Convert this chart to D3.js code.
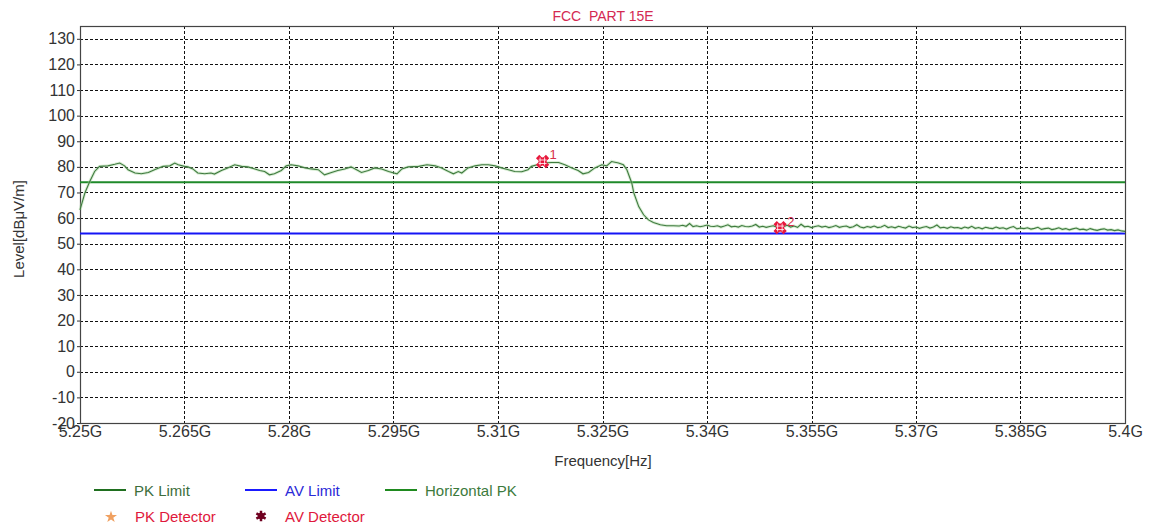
<!DOCTYPE html>
<html>
<head>
<meta charset="utf-8">
<script src="https://cdn.jsdelivr.net/npm/d3@7"></script>
<style>
  html, body { margin: 0; padding: 0; background: #fff; }
  svg { display: block; font-family: Arial, "Liberation Sans", sans-serif; }
</style>
</head>
<body>
<svg id="chart" width="1154" height="530"></svg>
<script>
// Frequency axis ticks (GHz) and their labels
const freqTicks = [5.25, 5.265, 5.28, 5.295, 5.31, 5.325, 5.34, 5.355, 5.37, 5.385, 5.4];
const freqTickLabels = ["5.25G", "5.265G", "5.28G", "5.295G", "5.31G", "5.325G", "5.34G", "5.355G", "5.37G", "5.385G", "5.4G"];
// Level axis ticks (dBµV/m)
const levelTicks = [-20, -10, 0, 10, 20, 30, 40, 50, 60, 70, 80, 90, 100, 110, 120, 130];

// Limits
const pkLimit = 74;
const avLimit = 54;

// Peak sweep: [frequency GHz, level dBµV/m]
const sweep = [
  [5.2500, 63.2], [5.2507, 69.8], [5.2514, 74.3], [5.2521, 78.2], [5.2528, 80.2],
  [5.2540, 80.4], [5.2550, 81.0], [5.2557, 81.5], [5.2564, 80.4], [5.2569, 78.9],
  [5.2579, 77.6], [5.2588, 77.3], [5.2598, 77.8], [5.2607, 78.9], [5.2619, 80.2],
  [5.2629, 80.4], [5.2636, 81.5], [5.2641, 80.8], [5.2650, 80.2], [5.2655, 80.0],
  [5.2662, 79.2], [5.2669, 77.6], [5.2679, 77.3], [5.2688, 77.6], [5.2693, 77.2],
  [5.2703, 78.6], [5.2712, 79.6], [5.2722, 80.8], [5.2732, 80.2], [5.2741, 80.0],
  [5.2751, 79.2], [5.2758, 78.6], [5.2765, 78.2], [5.2772, 76.9], [5.2779, 77.3],
  [5.2789, 78.6], [5.2796, 80.4], [5.2803, 80.8], [5.2813, 80.4], [5.2823, 79.6],
  [5.2832, 79.2], [5.2842, 78.9], [5.2851, 76.9], [5.2861, 77.8], [5.2870, 78.6],
  [5.2880, 79.2], [5.2889, 80.0], [5.2897, 78.9], [5.2904, 77.8], [5.2914, 78.6],
  [5.2923, 79.6], [5.2933, 79.2], [5.2943, 78.2], [5.2955, 77.3], [5.2962, 79.2],
  [5.2971, 80.0], [5.2986, 80.2], [5.2998, 80.8], [5.3010, 80.4], [5.3019, 79.6],
  [5.3029, 78.2], [5.3036, 77.3], [5.3043, 78.2], [5.3048, 77.6], [5.3057, 79.6],
  [5.3067, 80.4], [5.3077, 80.8], [5.3086, 80.8], [5.3096, 80.4], [5.3105, 79.6],
  [5.3115, 78.9], [5.3124, 78.2], [5.3134, 78.1], [5.3143, 78.9], [5.3148, 80.2],
  [5.3156, 80.8], [5.3163, 81.5], [5.3177, 81.7], [5.3187, 81.7], [5.3196, 80.8],
  [5.3206, 79.6], [5.3215, 78.6], [5.3222, 77.3], [5.3230, 77.8], [5.3239, 79.6],
  [5.3249, 80.8], [5.3256, 80.4], [5.3263, 82.1], [5.3273, 81.5], [5.3280, 80.8],
  [5.3285, 78.9], [5.3292, 73.7], [5.3295, 69.8], [5.3302, 64.5], [5.3309, 61.3],
  [5.3316, 59.3], [5.3323, 58.3], [5.3333, 57.4], [5.3342, 57.0], [5.3352, 57.0],
  [5.3360, 56.9], [5.3365, 57.2], [5.3370, 56.8], [5.3375, 57.9], [5.3380, 56.7],
  [5.3385, 57.0], [5.3390, 56.6], [5.3395, 56.9], [5.3400, 57.3], [5.3405, 56.8],
  [5.3410, 56.7], [5.3415, 57.0], [5.3420, 56.5], [5.3425, 56.9], [5.3430, 57.4],
  [5.3435, 56.6], [5.3440, 56.8], [5.3445, 56.5], [5.3450, 57.1], [5.3455, 56.7],
  [5.3460, 56.6], [5.3465, 56.9], [5.3470, 57.5], [5.3475, 56.5], [5.3480, 56.8],
  [5.3485, 56.4], [5.3490, 56.7], [5.3495, 57.0], [5.3500, 56.5], [5.3505, 56.8],
  [5.3510, 56.6], [5.3515, 57.2], [5.3520, 56.5], [5.3525, 56.9], [5.3530, 56.4],
  [5.3535, 57.6], [5.3540, 56.6], [5.3545, 56.8], [5.3550, 56.3], [5.3555, 56.7],
  [5.3560, 57.0], [5.3565, 56.5], [5.3570, 56.8], [5.3575, 56.3], [5.3580, 56.6],
  [5.3585, 57.1], [5.3590, 56.4], [5.3595, 56.7], [5.3600, 56.9], [5.3605, 56.3],
  [5.3610, 56.6], [5.3615, 57.4], [5.3620, 56.5], [5.3625, 56.2], [5.3630, 56.7],
  [5.3635, 56.4], [5.3640, 56.9], [5.3645, 56.3], [5.3650, 56.5], [5.3655, 57.2],
  [5.3660, 56.3], [5.3665, 56.6], [5.3670, 56.2], [5.3675, 56.8], [5.3680, 56.4],
  [5.3685, 56.1], [5.3690, 56.9], [5.3695, 56.3], [5.3700, 56.5], [5.3705, 56.0],
  [5.3710, 56.4], [5.3715, 56.7], [5.3720, 56.1], [5.3725, 56.5], [5.3730, 57.3],
  [5.3735, 56.2], [5.3740, 56.4], [5.3745, 56.0], [5.3750, 56.6], [5.3755, 56.2],
  [5.3760, 56.3], [5.3765, 55.9], [5.3770, 56.5], [5.3775, 56.1], [5.3780, 56.8],
  [5.3785, 56.0], [5.3790, 56.3], [5.3795, 55.8], [5.3800, 56.4], [5.3805, 56.1],
  [5.3810, 55.9], [5.3815, 56.5], [5.3820, 56.0], [5.3825, 56.2], [5.3830, 55.7],
  [5.3835, 56.3], [5.3840, 56.7], [5.3845, 55.8], [5.3850, 56.1], [5.3855, 55.9],
  [5.3860, 56.2], [5.3865, 55.7], [5.3870, 56.0], [5.3875, 56.4], [5.3880, 55.6],
  [5.3885, 55.9], [5.3890, 56.1], [5.3895, 55.5], [5.3900, 55.8], [5.3905, 56.2],
  [5.3910, 55.6], [5.3915, 55.9], [5.3920, 55.4], [5.3925, 55.8], [5.3930, 56.1],
  [5.3935, 55.5], [5.3940, 55.7], [5.3945, 55.3], [5.3950, 55.9], [5.3955, 55.5],
  [5.3960, 55.2], [5.3965, 55.6], [5.3970, 55.8], [5.3975, 55.3], [5.3980, 55.5],
  [5.3985, 55.1], [5.3990, 55.4], [5.3995, 55.0], [5.4000, 54.8]
];

// Marked peaks
const markerIds = ["1", "2"];
const markerFreq = [5.3164, 5.3505];
const markerLevel = [82.1, 56.3];

// Legend entries
const legendLines = [
  { label: "PK Limit", color: "#1f6f1f", text: "#3c6e3c" },
  { label: "AV Limit", color: "#1a1aff", text: "#2a2ad8" },
  { label: "Horizontal PK", color: "#1f8a1f", text: "#3c7a3c" }
];
const legendDetectors = ["PK Detector", "AV Detector"];

const svg = d3.select("#chart");
const plotLeft = 80, plotRight = 1125, plotTop = 26, plotBottom = 423;

const x = d3.scaleLinear().domain([5.25, 5.40]).range([plotLeft, plotRight]);
const y = d3.scaleLinear().domain([-20, 135]).range([plotBottom, plotTop]);

// Title
svg.append("text")
  .attr("x", 603).attr("y", 21)
  .attr("text-anchor", "middle")
  .attr("fill", "#d42a52")
  .attr("font-size", 14)
  .style("white-space", "pre")
  .text("FCC  PART 15E");

// Grid
const grid = svg.append("g").attr("stroke", "#111").attr("stroke-width", 1)
  .attr("stroke-dasharray", "3,2").attr("shape-rendering", "crispEdges");
grid.selectAll("line.h").data(levelTicks.filter(v => v > -20)).join("line")
  .attr("x1", plotLeft).attr("x2", plotRight)
  .attr("y1", d => Math.round(y(d)) + 0.5).attr("y2", d => Math.round(y(d)) + 0.5);
grid.selectAll("line.v").data(freqTicks.slice(1, -1)).join("line")
  .attr("x1", d => Math.round(x(d)) + 0.5).attr("x2", d => Math.round(x(d)) + 0.5)
  .attr("y1", plotTop).attr("y2", plotBottom);

// Axes
const yAxis = svg.append("g").attr("transform", `translate(${plotLeft},0)`)
  .call(d3.axisLeft(y).tickValues(levelTicks).tickFormat(d => String(d)).tickSize(3).tickPadding(2).tickSizeOuter(0));
yAxis.select(".domain").remove();
yAxis.selectAll("text").attr("font-size", 16).attr("fill", "#333").attr("font-family", "Arial, 'Liberation Sans', sans-serif");
yAxis.selectAll("line").attr("stroke", "#333");

const xAxis = svg.append("g").attr("transform", `translate(0,${plotBottom})`)
  .call(d3.axisBottom(x).tickValues(freqTicks).tickFormat((d, i) => freqTickLabels[i]).tickSize(0).tickPadding(3).tickSizeOuter(0));
xAxis.select(".domain").remove();
xAxis.selectAll("text").attr("font-size", 16).attr("fill", "#333").attr("font-family", "Arial, 'Liberation Sans', sans-serif");

// Plot border
svg.append("rect")
  .attr("x", plotLeft + 0.5).attr("y", plotTop + 0.5)
  .attr("width", plotRight - plotLeft).attr("height", plotBottom - plotTop)
  .attr("fill", "none").attr("stroke", "#444").attr("stroke-width", 1.2);

// Axis titles
svg.append("text")
  .attr("x", 603).attr("y", 466)
  .attr("text-anchor", "middle").attr("font-size", 15).attr("fill", "#333")
  .text("Frequency[Hz]");
svg.append("text")
  .attr("transform", "translate(24,229) rotate(-90)")
  .attr("text-anchor", "middle").attr("font-size", 15).attr("fill", "#333")
  .text("Level[dBμV/m]");

// Limit lines
svg.append("line")
  .attr("x1", x(5.25)).attr("x2", x(5.40))
  .attr("y1", y(pkLimit)).attr("y2", y(pkLimit))
  .attr("stroke", "#1f8a2a").attr("stroke-width", 2);
svg.append("line")
  .attr("x1", x(5.25)).attr("x2", x(5.40))
  .attr("y1", y(avLimit)).attr("y2", y(avLimit))
  .attr("stroke", "#1515f5").attr("stroke-width", 2);

// Sweep trace
const line = d3.line().x(d => x(d[0])).y(d => y(d[1]));
svg.append("path").datum(sweep)
  .attr("d", line).attr("fill", "none")
  .attr("stroke", "#a8d8a0").attr("stroke-width", 3).attr("opacity", 0.45);
svg.append("path").datum(sweep)
  .attr("d", line).attr("fill", "none")
  .attr("stroke", "#3f7a3f").attr("stroke-width", 1.1);

// Peak markers
const mk = svg.append("g");
markerIds.forEach((id, i) => {
  const cx = x(markerFreq[i]), cy = y(markerLevel[i]);
  const g = mk.append("g").attr("transform", `translate(${cx},${cy})`);
  g.append("path")
    .attr("d", d3.symbol().type(d3.symbolCross).size(110)())
    .attr("transform", "rotate(45)")
    .attr("fill", "#e8183c");
  g.append("rect").attr("x", -4).attr("y", -4).attr("width", 8).attr("height", 8).attr("fill", "#e8183c");
  g.append("path")
    .attr("d", "M-2.5,-4V4M2,-4V4M-4,-1.5H4M-4,2H4")
    .attr("stroke", "#fff").attr("stroke-width", 0.8);
  svg.append("text")
    .attr("x", cx + 7).attr("y", cy - 2)
    .attr("font-size", 13).attr("fill", "#d8304a")
    .text(id);
});

// Legend
const legendX = [94, 245, 385];
legendLines.forEach((d, i) => {
  svg.append("line")
    .attr("x1", legendX[i]).attr("x2", legendX[i] + 32)
    .attr("y1", 490).attr("y2", 490)
    .attr("stroke", d.color).attr("stroke-width", 2);
  svg.append("text")
    .attr("x", legendX[i] + 40).attr("y", 496)
    .attr("font-size", 15).attr("fill", d.text)
    .text(d.label);
});
// PK detector glyph
svg.append("path")
  .attr("d", d3.symbol().type(d3.symbolStar).size(45)())
  .attr("transform", "translate(111,517)")
  .attr("fill", "#f0a060");
svg.append("text").attr("x", 135).attr("y", 522)
  .attr("font-size", 15).attr("fill", "#e0183c").text(legendDetectors[0]);
// AV detector glyph
const av = svg.append("g").attr("transform", "translate(261,516)");
av.append("path")
  .attr("d", d3.symbol().type(d3.symbolAsterisk || d3.symbolCross).size(80)())
  .attr("stroke", "#700020").attr("stroke-width", 2.5).attr("fill", "none");
av.append("circle").attr("r", 3.2).attr("fill", "#700020");
svg.append("text").attr("x", 285).attr("y", 522)
  .attr("font-size", 15).attr("fill", "#e0183c").text(legendDetectors[1]);
</script>
</body>
</html>
